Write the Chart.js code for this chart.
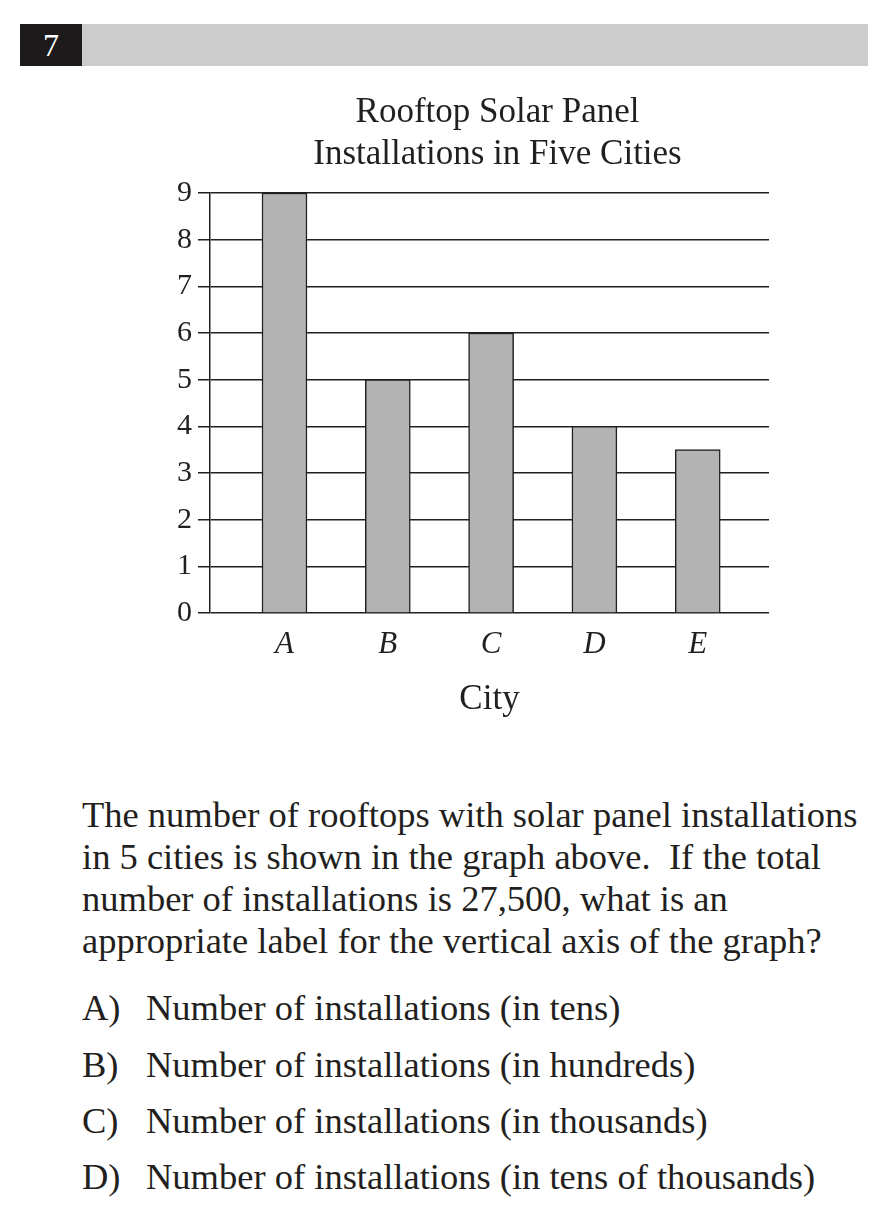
<!DOCTYPE html>
<html><head><meta charset="utf-8">
<script src="https://cdn.jsdelivr.net/npm/chart.js@4.4.0/dist/chart.umd.min.js"></script>
<style>
html,body{margin:0;padding:0;background:#fff;width:886px;height:1220px;overflow:hidden;font-family:"Liberation Serif","DejaVu Serif",serif;color:#231f20}
#hdrnum{position:absolute;left:20px;top:24px;width:62px;height:42px;background:#1c1a1a;color:#fff;font-size:32px;line-height:42px;text-align:center}
#hdrbar{position:absolute;left:82px;top:24px;width:786px;height:42px;background:#cccccc}
#chartbox{position:absolute;left:0;top:0;width:886px;height:760px}
#q{position:absolute;left:82px;top:794px;font-size:36.5px;line-height:42px;white-space:nowrap}
.opt{position:absolute;left:82px;font-size:36.5px;line-height:42px;white-space:nowrap}
.opt span{position:absolute;left:64px}
</style></head>
<body>
<div id="hdrnum">7</div><div id="hdrbar"></div>
<div id="chartbox"><canvas id="c" width="886" height="760"></canvas></div>
<div id="q">The number of rooftops with solar panel installations<br>in 5 cities is shown in the graph above.&nbsp; If the total<br>number of installations is 27,500, what is an<br>appropriate label for the vertical axis of the graph?</div>
<div class="opt" style="top:987px">A)<span>Number of installations (in tens)</span></div>
<div class="opt" style="top:1044px">B)<span>Number of installations (in hundreds)</span></div>
<div class="opt" style="top:1100px">C)<span>Number of installations (in thousands)</span></div>
<div class="opt" style="top:1156px">D)<span>Number of installations (in tens of thousands)</span></div>
<script>
const categories = ['A', 'B', 'C', 'D', 'E'];
const installations = [9, 5, 6, 4, 3.5];
const yTickMin = 0;
const yTickMax = 9;
const yTickStep = 1;
const titleLines = ['Rooftop Solar Panel', 'Installations in Five Cities'];
const xAxisLabel = 'City';

const FONT = '"Liberation Serif", "DejaVu Serif", serif';
const INK = '#231f20';

const points = categories.map((c, i) => ({ x: i + 1, y: installations[i] }));

// Title drawn centred over the plot area (slightly right of it, as in the original)
const centredTitle = {
  id: 'centredTitle',
  afterDraw(chart) {
    const ctx = chart.ctx;
    const a = chart.chartArea;
    const cx = (a.left + a.right) / 2 + 8;
    ctx.save();
    ctx.fillStyle = INK;
    ctx.font = '35px ' + FONT;
    ctx.textAlign = 'center';
    ctx.textBaseline = 'middle';
    titleLines.forEach((t, i) => ctx.fillText(t, cx, a.top - 80 + i * 42));
    ctx.restore();
  }
};

new Chart(document.getElementById('c'), {
  type: 'bar',
  data: {
    datasets: [{
      data: points,
      backgroundColor: '#b3b3b3',
      borderColor: INK,
      borderWidth: 1.5,
      barThickness: 45
    }]
  },
  plugins: [centredTitle],
  options: {
    responsive: false,
    animation: false,
    events: [],
    layout: { padding: { left: 140, right: 117, top: 193, bottom: 27 } },
    plugins: {
      legend: { display: false },
      tooltip: { enabled: false },
      title: { display: false }
    },
    scales: {
      x: {
        type: 'linear',
        offset: false,
        min: 0.279,
        max: 5.69,
        afterBuildTicks: (axis) => { axis.ticks = categories.map((c, i) => ({ value: i + 1 })); },
        afterFit: (scale) => { scale.height = 120; },
        grid: { display: false, drawTicks: false },
        border: { display: false },
        ticks: {
          color: INK,
          padding: 13,
          autoSkip: false,
          maxRotation: 0,
          font: { family: FONT, size: 31, style: 'italic' },
          callback: (v) => categories[Math.round(v) - 1] || ''
        },
        title: {
          display: true,
          text: xAxisLabel,
          color: INK,
          font: { family: FONT, size: 35, lineHeight: 1.2 },
          padding: { top: 0, bottom: 12 }
        }
      },
      y: {
        min: yTickMin,
        max: yTickMax,
        afterFit: (scale) => { scale.width = 70; },
        ticks: {
          stepSize: yTickStep,
          color: INK,
          padding: 6,
          font: { family: FONT, size: 30 }
        },
        grid: { color: INK, lineWidth: 1.5, tickLength: 12, drawTicks: true },
        border: { display: true, color: INK, width: 1.5 }
      }
    }
  }
});
</script>
</body></html>
